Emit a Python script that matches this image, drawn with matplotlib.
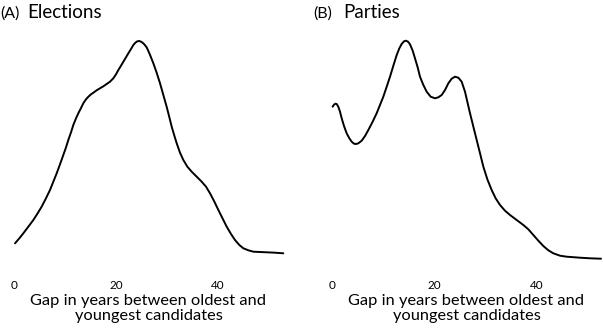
import matplotlib
matplotlib.use("Agg")
import matplotlib.pyplot as plt

plt.rcParams['font.family'] = ['Lato', 'DejaVu Sans']

# Panel A: Elections (density, relative units)
elections_x = [0.20, 1.05, 1.83, 2.81, 3.79, 4.64, 5.42, 6.27, 7.06, 7.71, 8.37, 9.02,
               9.67, 10.20, 10.65, 11.18, 11.63, 12.16, 12.61, 13.14, 13.59, 14.12,
               14.58, 15.10, 15.56, 16.21, 16.86, 17.52, 18.17, 18.82, 19.48, 20.00,
               20.46, 20.98, 21.44, 21.96, 22.42, 22.94, 23.40, 23.79, 24.18, 24.57,
               25.03, 25.49, 26.01, 26.60, 27.32, 27.97, 28.63, 29.28, 29.93, 30.46,
               30.92, 31.44, 31.90, 32.55, 33.20, 33.99, 34.84, 35.82, 36.80, 37.65,
               38.43, 39.22, 40.07, 40.92, 41.70, 42.55, 43.33, 44.18, 44.97, 45.95,
               46.93, 48.24, 49.54, 51.18, 52.81]
elections_y = [12.7, 17.7, 22.7, 29.3, 36.0, 42.7, 49.3, 57.7, 66.0, 74.3, 82.7, 91.7,
               101.0, 108.7, 116.0, 123.7, 131.0, 137.7, 142.7, 148.0, 152.7, 156.7,
               159.3, 161.7, 163.3, 165.7, 167.7, 169.7, 172.0, 174.3, 177.7, 181.7,
               186.0, 190.3, 194.3, 198.7, 202.7, 207.0, 211.0, 213.3, 214.7, 215.0,
               214.0, 212.0, 208.7, 202.0, 192.7, 183.3, 172.7, 161.0, 149.3, 138.7,
               129.3, 120.3, 112.7, 103.3, 96.0, 89.3, 84.3, 79.3, 74.3, 69.3,
               62.7, 55.0, 46.0, 37.3, 29.3, 22.0, 16.0, 11.0, 7.7, 5.7,
               4.3, 4.0, 3.7, 3.3, 2.7]

# Panel B: Parties
parties_x = [0.19, 0.45, 0.71, 0.97, 1.29, 1.62, 1.95, 2.40, 2.92, 3.44, 3.90, 4.35,
             4.74, 5.20, 5.85, 6.50, 7.15, 7.99, 8.77, 9.42, 10.07, 10.73, 11.38,
             12.03, 12.68, 13.20, 13.65, 14.11, 14.50, 14.89, 15.28, 15.80, 16.25,
             16.77, 17.23, 17.88, 18.53, 19.31, 20.16, 20.81, 21.46, 22.11, 22.76,
             23.41, 24.06, 24.71, 25.36, 26.01, 26.46, 26.99, 27.64, 28.29, 28.94,
             29.59, 30.37, 31.21, 31.99, 32.84, 33.81, 34.79, 36.09, 37.39, 38.37,
             39.34, 40.32, 41.29, 42.27, 43.24, 44.55, 45.85, 48.45, 50.40, 52.55]
parties_y = [153.3, 155.3, 156.3, 156.0, 153.3, 148.3, 141.7, 134.0, 126.7, 121.7, 118.3,
             116.3, 116.0, 116.7, 119.3, 124.0, 130.0, 138.3, 146.7, 155.0, 163.3, 173.3,
             183.3, 194.3, 205.0, 211.7, 216.0, 218.7, 219.3, 218.3, 215.7, 209.3, 201.7,
             192.7, 183.3, 175.0, 168.3, 163.3, 161.7, 162.7, 165.0, 170.0, 176.7,
             181.3, 183.3, 182.3, 178.3, 168.3, 158.3, 146.7, 133.3, 120.0, 106.7,
             93.3, 80.7, 70.0, 61.7, 55.0, 49.3, 45.0, 40.0, 35.0, 30.7,
             25.0, 19.3, 14.0, 9.7, 6.7, 4.3, 3.3, 2.3, 1.7, 1.3]

ticks = [0, 20, 40]
tick_labels = ["0", "20", "40"]
xlabel = "Gap in years between oldest and\nyoungest candidates"

W, H = 603, 333
fig = plt.figure(figsize=(W / 100, H / 100), dpi=100)

def px_axes(left, right, bottom, top):
    return fig.add_axes([left / W, (H - bottom) / H, (right - left) / W, (bottom - top) / H])

axA = px_axes(14, 283.3, 256, 36)
axA.set_xlim(0, 52.8)
axA.set_ylim(0, 220)
axA.plot(elections_x, elections_y, color='black', lw=1.4, clip_on=False,
         solid_joinstyle='round', solid_capstyle='round')

axB = px_axes(331.7, 601.8, 260, 35)
axB.set_xlim(0, 52.7)
axB.set_ylim(0, 225)
axB.plot(parties_x, parties_y, color='black', lw=1.4, clip_on=False,
         solid_joinstyle='round', solid_capstyle='round')

for ax, pad in ((axA, 17.5), (axB, 14.5)):
    for s in ax.spines.values():
        s.set_visible(False)
    ax.set_yticks([])
    ax.set_xticks(ticks)
    ax.set_xticklabels(tick_labels)
    ax.tick_params(axis='x', length=0, pad=pad, labelsize=8.5, colors='black')

def ftext(x, y, s, **kw):
    fig.text(x / W, 1 - y / H, s, **kw)

ftext(148.5, 294, xlabel, ha='center', va='top', fontsize=11.8, linespacing=1.05)
ftext(466.5, 294, xlabel, ha='center', va='top', fontsize=11.8, linespacing=1.05)

ftext(0, 18, "(A)", ha='left', va='baseline', fontsize=11.5)
ftext(27, 18, "Elections", ha='left', va='baseline', fontsize=13.5)
ftext(313, 18, "(B)", ha='left', va='baseline', fontsize=11.5)
ftext(343, 18, "Parties", ha='left', va='baseline', fontsize=13.5)

fig.savefig("out.png", dpi=100)
